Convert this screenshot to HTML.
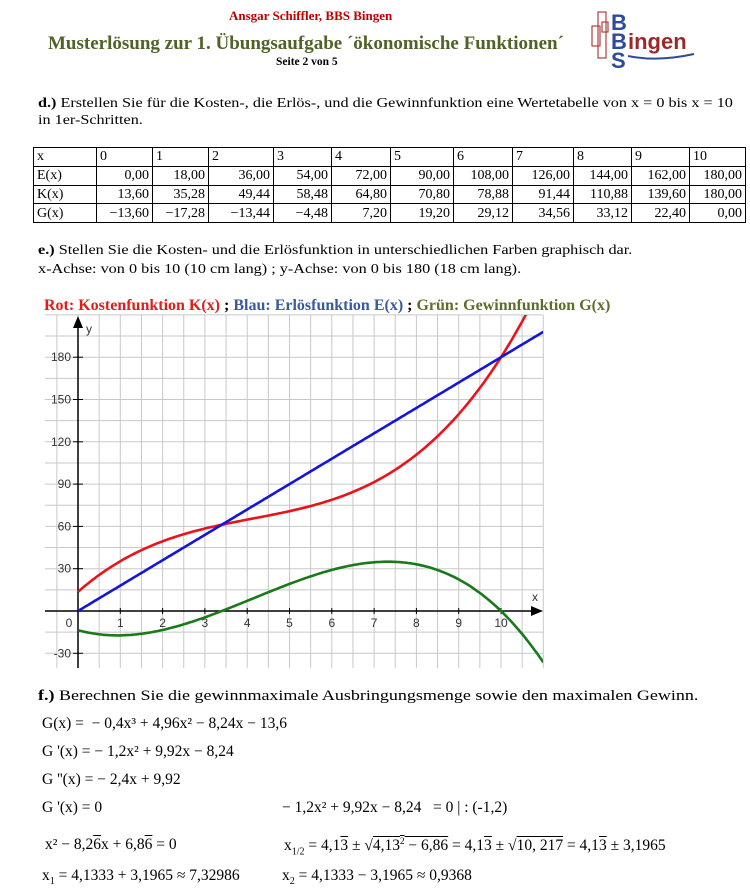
<!DOCTYPE html>
<html><head><meta charset="utf-8">
<style>
body{margin:0;background:#fff;}
#p{position:relative;width:750px;height:896px;overflow:hidden;font-family:"Liberation Serif",serif;color:#000;}
.t{position:absolute;white-space:nowrap;transform-origin:0 0;}
table{position:absolute;left:33px;top:147px;border-collapse:collapse;font-family:"Liberation Serif",serif;font-size:14px;}
td{border:1px solid #000;height:17.75px;padding:0 3px;line-height:17px;}
td.r{text-align:right;}
</style></head><body><div id="p">
<div class="t" style="left:229px;top:8px;font-size:13px;font-weight:bold;color:#c00000;">Ansgar Schiffler, BBS Bingen</div>
<div class="t" style="left:48px;top:33px;font-size:19px;font-weight:bold;color:#4f6228;">Musterlösung zur 1. Übungsaufgabe ´ökonomische Funktionen´</div>
<div class="t" style="left:276px;top:56px;font-size:11.5px;font-weight:bold;">Seite 2 von 5</div>
<svg style="position:absolute;left:588px;top:8px" width="115" height="62">
<g fill="none" stroke="#b04040" stroke-width="1.2"><rect x="10" y="4" width="8" height="46"/><rect x="4" y="18" width="8" height="20"/><rect x="14" y="14" width="6" height="10"/></g>
<text x="23" y="22" font-family="Liberation Sans" font-weight="bold" font-size="22" fill="#2e4a9a">B</text>
<text x="23" y="41" font-family="Liberation Sans" font-weight="bold" font-size="22" fill="#2e4a9a">B</text>
<text x="40" y="41" font-family="Liberation Sans" font-weight="bold" font-size="22" fill="#9a2a2a">ingen</text>
<text x="23" y="60" font-family="Liberation Sans" font-weight="bold" font-size="22" fill="#2e4a9a">S</text>
<path d="M40 48 Q70 54 106 46" stroke="#2e4a9a" stroke-width="2" fill="none"/>
</svg>
<div class="t" style="left:38px;top:96px;font-size:14px;transform:scaleX(1.156);"><b>d.)</b> Erstellen Sie für die Kosten-, die Erlös-, und die Gewinnfunktion eine Wertetabelle von x = 0 bis x = 10</div>
<div class="t" style="left:38px;top:113px;font-size:14px;transform:scaleX(1.156);">in 1er-Schritten.</div>
<table>
<colgroup><col style="width:63px"><col style="width:56px"><col style="width:56px"><col style="width:65px"><col style="width:58px"><col style="width:59px"><col style="width:63px"><col style="width:59px"><col style="width:61px"><col style="width:58px"><col style="width:58px"><col style="width:56px"></colgroup>
<tr><td>x</td><td>0</td><td>1</td><td>2</td><td>3</td><td>4</td><td>5</td><td>6</td><td>7</td><td>8</td><td>9</td><td>10</td></tr>
<tr><td>E(x)</td><td class="r">0,00</td><td class="r">18,00</td><td class="r">36,00</td><td class="r">54,00</td><td class="r">72,00</td><td class="r">90,00</td><td class="r">108,00</td><td class="r">126,00</td><td class="r">144,00</td><td class="r">162,00</td><td class="r">180,00</td></tr>
<tr><td>K(x)</td><td class="r">13,60</td><td class="r">35,28</td><td class="r">49,44</td><td class="r">58,48</td><td class="r">64,80</td><td class="r">70,80</td><td class="r">78,88</td><td class="r">91,44</td><td class="r">110,88</td><td class="r">139,60</td><td class="r">180,00</td></tr>
<tr><td>G(x)</td><td class="r">−13,60</td><td class="r">−17,28</td><td class="r">−13,44</td><td class="r">−4,48</td><td class="r">7,20</td><td class="r">19,20</td><td class="r">29,12</td><td class="r">34,56</td><td class="r">33,12</td><td class="r">22,40</td><td class="r">0,00</td></tr>
</table>
<div class="t" style="left:38px;top:243px;font-size:14px;transform:scaleX(1.158);"><b>e.)</b> Stellen Sie die Kosten- und die Erlösfunktion in unterschiedlichen Farben graphisch dar.</div>
<div class="t" style="left:38px;top:262px;font-size:14px;transform:scaleX(1.158);">x-Achse: von 0 bis 10 (10 cm lang) ; y-Achse: von 0 bis 180 (18 cm lang).</div>
<div class="t" style="left:44px;top:297px;font-size:16px;font-weight:bold;"><span style="color:#e31b1b">Rot: Kostenfunktion K(x)</span> ; <span style="color:#3a5a9a">Blau: Erlösfunktion E(x)</span> ; <span style="color:#5b6e2a">Grün: Gewinnfunktion G(x)</span></div>
<svg id="ch" style="position:absolute;left:0;top:0" width="750" height="896"></svg>
<div class="t" style="left:38px;top:688px;font-size:15px;transform:scaleX(1.2);"><b>f.)</b> Berechnen Sie die gewinnmaximale Ausbringungsmenge sowie den maximalen Gewinn.</div>
<div class="t" style="left:42px;top:715px;font-size:15.5px;">G(x) = &nbsp;− 0,4x³ + 4,96x² − 8,24x − 13,6</div>
<div class="t" style="left:42px;top:743px;font-size:15.5px;">G '(x) = − 1,2x² + 9,92x − 8,24</div>
<div class="t" style="left:42px;top:771px;font-size:15.5px;">G ''(x) = − 2,4x + 9,92</div>
<div class="t" style="left:42px;top:799px;font-size:15.5px;">G '(x) = 0</div>
<div class="t" style="left:282px;top:799px;font-size:15.5px;">− 1,2x² + 9,92x − 8,24 &nbsp;&nbsp;= 0 | : (-1,2)</div>
<div class="t" style="left:45px;top:836px;font-size:15.5px;">x² − 8,2<span style="text-decoration:overline">6</span>x + 6,8<span style="text-decoration:overline">6</span> = 0</div>
<div class="t" style="left:284px;top:836px;font-size:15.5px;">x<sub style="font-size:10px">1/2</sub> = 4,1<span style="text-decoration:overline">3</span> ± √<span style="text-decoration:overline">4,1<span>3</span><sup style="font-size:9px">2</sup> − 6,8<span>6</span></span> = 4,1<span style="text-decoration:overline">3</span> ± √<span style="text-decoration:overline">10, 21<span>7</span></span> = 4,1<span style="text-decoration:overline">3</span> ± 3,1965</div>
<div class="t" style="left:42px;top:867px;font-size:15.5px;">x<sub style="font-size:10px">1</sub> = 4,1333 + 3,1965 ≈ 7,32986</div>
<div class="t" style="left:282px;top:867px;font-size:15.5px;">x<sub style="font-size:10px">2</sub> = 4,1333 − 3,1965 ≈ 0,9368</div>
</div>
<script>
(function(){
var s=document.getElementById('ch'),h='';
var X=function(x){return 78+42.3*x;},Y=function(y){return 611-y*42.3/30;};
var L=45,R=543,T=315,B=668;
h+='<defs><clipPath id="c"><rect x="'+L+'" y="'+T+'" width="'+(R-L)+'" height="'+(B-T)+'"/></clipPath></defs>';
h+='<g stroke="#c8c8c8" stroke-width="1">';
for(var i=-1;i<=22;i++){var x=X(i/2);if(x>=L&&x<=R+0.5)h+='<line x1="'+x+'" y1="'+T+'" x2="'+x+'" y2="'+B+'"/>';}
for(var j=-3;j<=14;j++){var y=Y(j*15);if(y>=T-0.5&&y<=B)h+='<line x1="'+L+'" y1="'+y+'" x2="'+R+'" y2="'+y+'"/>';}
h+='</g>';
h+='<g stroke="#000" stroke-width="1.5"><line x1="'+L+'" y1="611" x2="'+(R-6)+'" y2="611"/><line x1="78" y1="'+B+'" x2="78" y2="'+(T+8)+'"/></g>';
h+='<polygon points="543,611 531,606 531,616" fill="#000"/><polygon points="78,316 73,328 83,328" fill="#000"/>';
h+='<g font-family="Liberation Sans,sans-serif" font-size="12" fill="#333">';
for(var k=1;k<=10;k++){h+='<line x1="'+X(k)+'" y1="608" x2="'+X(k)+'" y2="614" stroke="#000"/><text x="'+X(k)+'" y="627" text-anchor="middle">'+k+'</text>';}
h+='<text x="69" y="627" text-anchor="middle">0</text>';
[-30,30,60,90,120,150,180].forEach(function(v){h+='<line x1="73" y1="'+Y(v)+'" x2="83" y2="'+Y(v)+'" stroke="#000"/><text x="71" y="'+(Y(v)+4)+'" text-anchor="end">'+v+'</text>';});
h+='<text x="86" y="333">y</text><text x="532" y="601">x</text></g>';
function path(f,c){var d='';for(var t=0;t<=11.001;t+=0.05){d+=(t?'L':'M')+X(t).toFixed(1)+' '+Y(f(t)).toFixed(1);}return '<path d="'+d+'" stroke="'+c+'" stroke-width="2.6" fill="none" clip-path="url(#c)"/>';}
h+=path(function(x){return 0.4*x*x*x-4.96*x*x+26.24*x+13.6;},'#e8141c');
h+=path(function(x){return 18*x;},'#1414dc');
h+=path(function(x){return -0.4*x*x*x+4.96*x*x-8.24*x-13.6;},'#1a7a1a');
s.innerHTML=h;
})();
</script>
</body></html>
